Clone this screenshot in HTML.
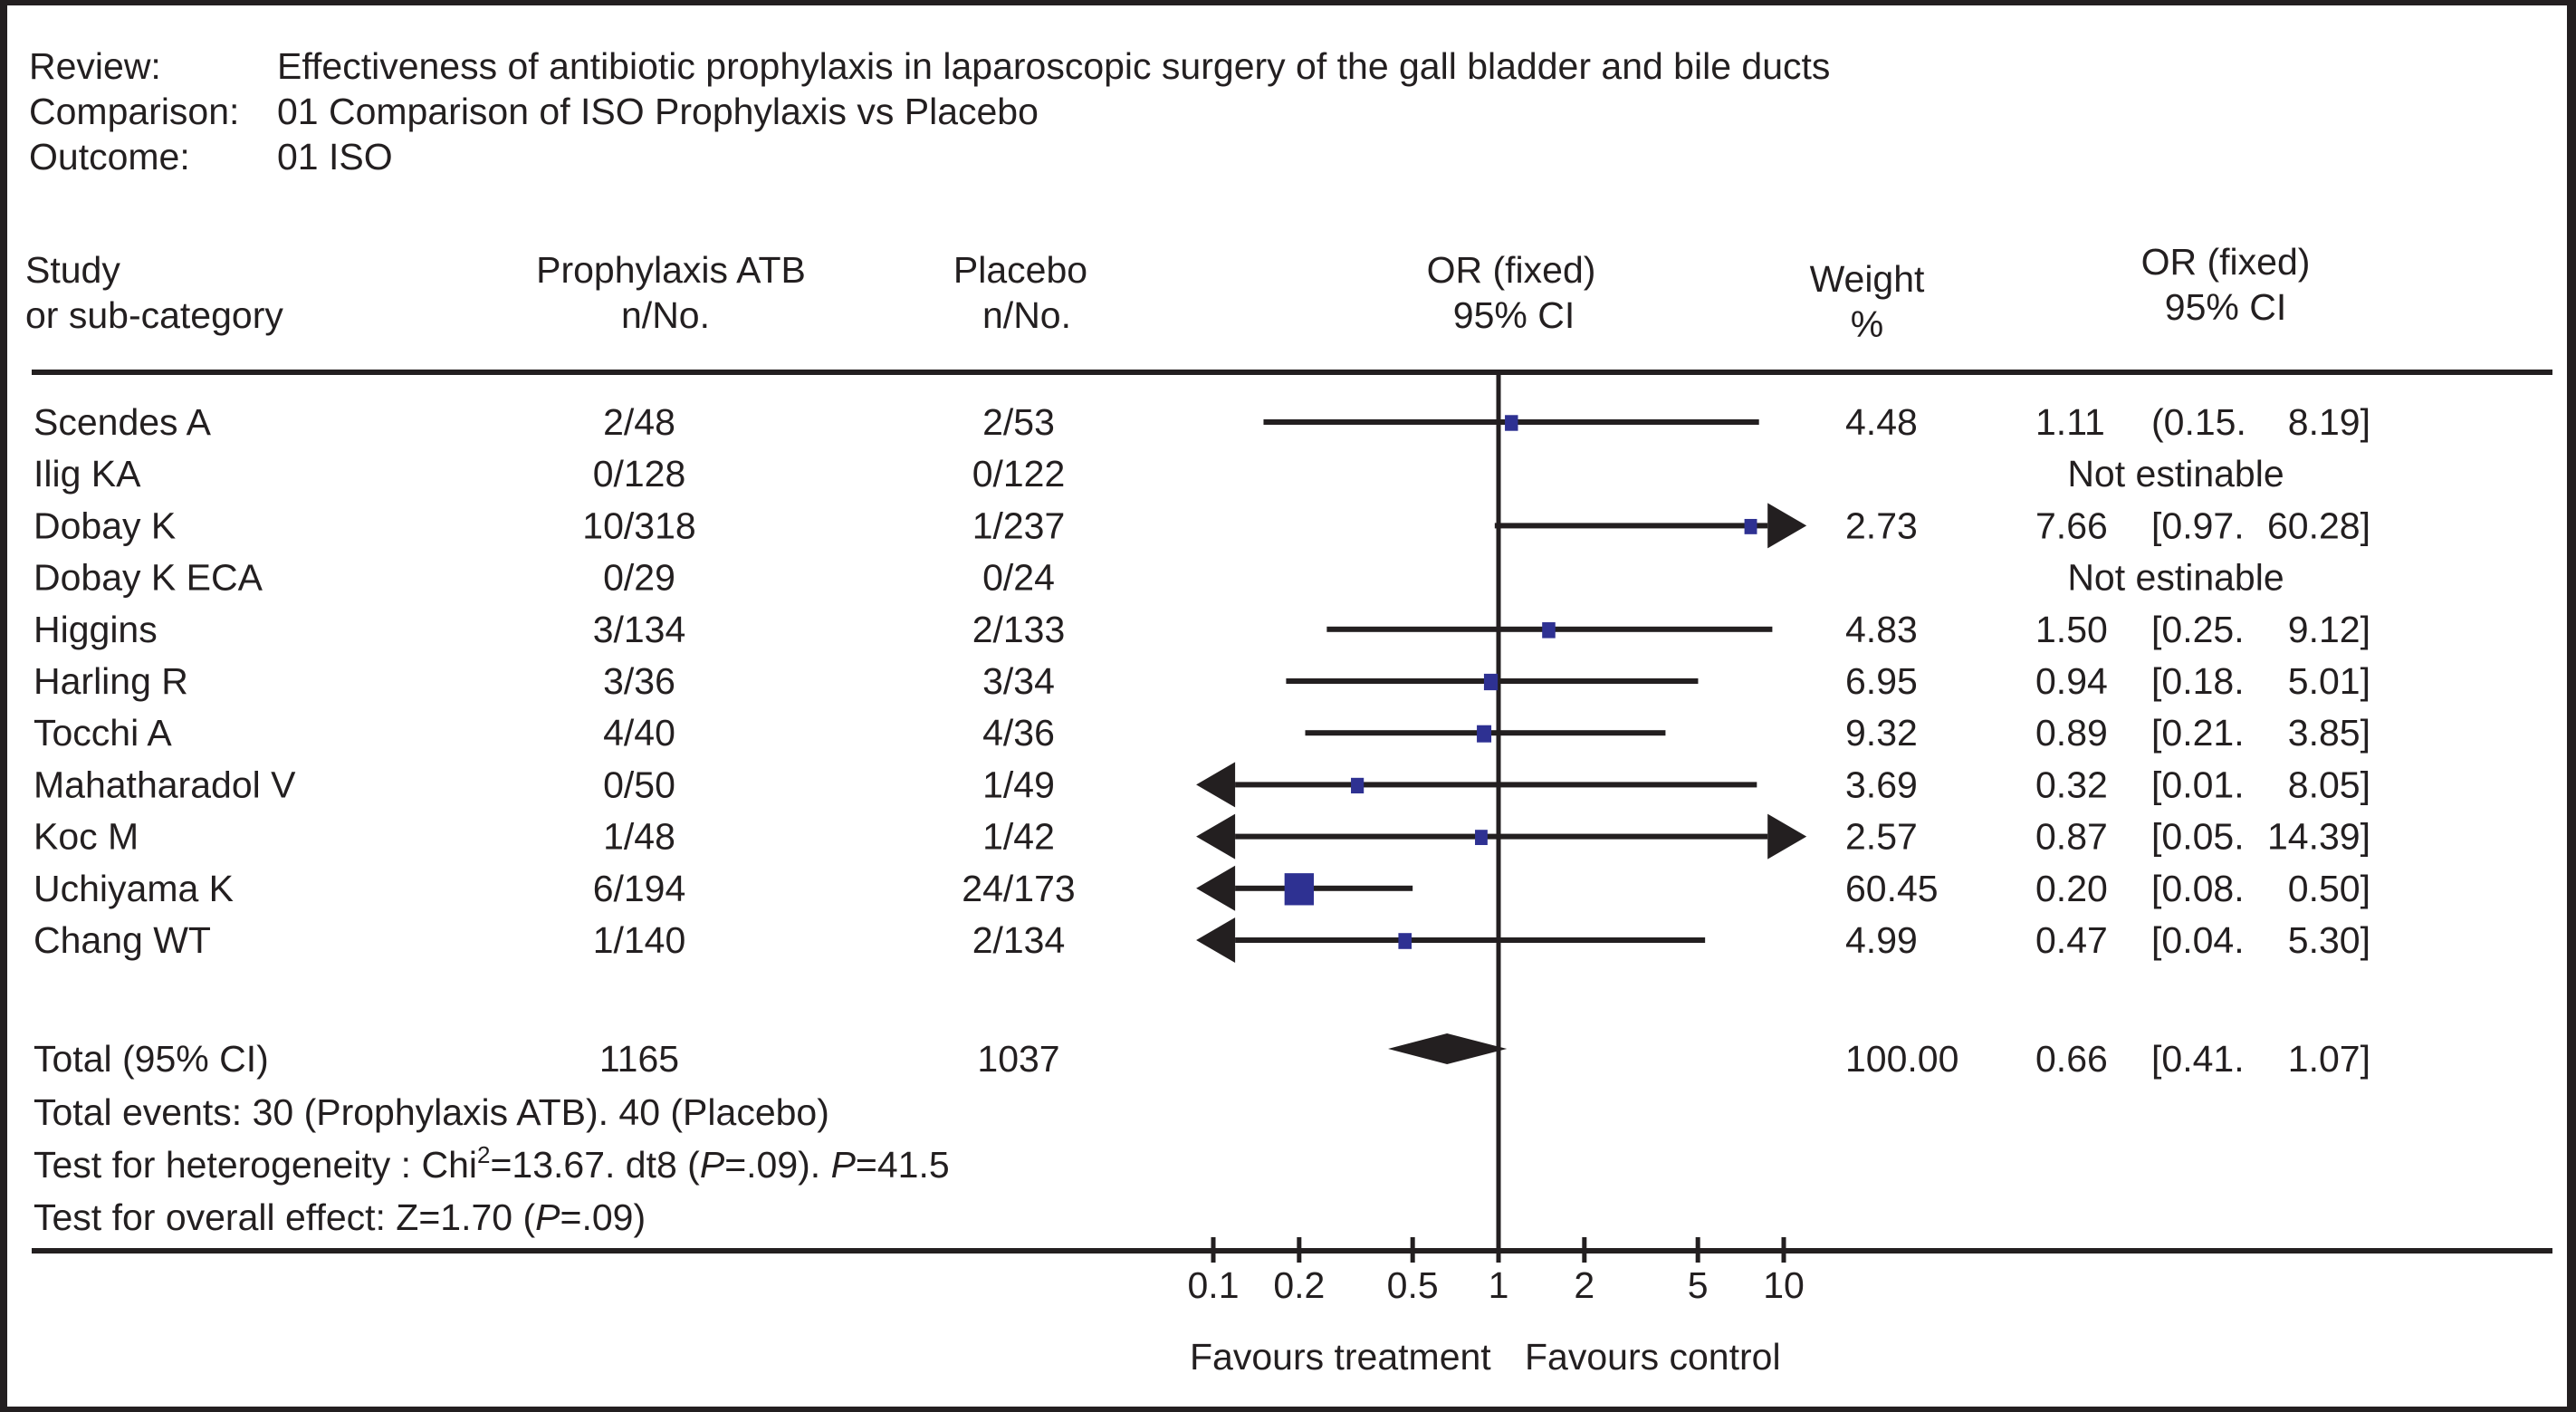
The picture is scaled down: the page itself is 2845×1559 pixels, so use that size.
<!DOCTYPE html>
<html><head><meta charset="utf-8">
<style>
html,body{margin:0;padding:0;background:#fff;}
svg{display:block;}
text{font-family:"Liberation Sans",Arial,sans-serif;font-size:41px;fill:#231f20;}
</style></head>
<body>
<svg id="chart" width="2845" height="1559" viewBox="0 0 2845 1559" xmlns="http://www.w3.org/2000/svg">
<rect x="0" y="0" width="2845" height="1559" fill="#fff"/>
<rect x="0" y="0" width="2845" height="6" fill="#231f20"/>
<rect x="0" y="1553" width="2845" height="6" fill="#231f20"/>
<rect x="0" y="0" width="8" height="1559" fill="#231f20"/>
<rect x="2835" y="0" width="10" height="1559" fill="#231f20"/>

<g>
<text x="32" y="87">Review:</text>
<text x="306" y="87">Effectiveness of antibiotic prophylaxis in laparoscopic surgery of the gall bladder and bile ducts</text>
<text x="32" y="137">Comparison:</text>
<text x="306" y="137">01 Comparison of ISO Prophylaxis vs Placebo</text>
<text x="32" y="187">Outcome:</text>
<text x="306" y="187">01 ISO</text>
</g>

<g>
<text x="28" y="312">Study</text>
<text x="28" y="362">or sub-category</text>
<text x="741" y="312" text-anchor="middle">Prophylaxis ATB</text>
<text x="735" y="362" text-anchor="middle">n/No.</text>
<text x="1127" y="312" text-anchor="middle">Placebo</text>
<text x="1134" y="362" text-anchor="middle">n/No.</text>
<text x="1669" y="312" text-anchor="middle">OR (fixed)</text>
<text x="1672" y="362" text-anchor="middle">95% CI</text>
<text x="2062" y="322" text-anchor="middle">Weight</text>
<text x="2062" y="372" text-anchor="middle">%</text>
<text x="2458" y="303" text-anchor="middle">OR (fixed)</text>
<text x="2458" y="353" text-anchor="middle">95% CI</text>
</g>

<rect x="35" y="408" width="2784" height="6" fill="#231f20"/>
<rect x="35" y="1378" width="2784" height="6" fill="#231f20"/>

<g id="rows"></g>
<g id="marks"></g>
<g id="axis"></g>

<g>
<text x="37" y="1242">Total events: 30 (Prophylaxis ATB). 40 (Placebo)</text>
<text x="37" y="1300">Test for heterogeneity : Chi<tspan dy="-16" font-size="26">2</tspan><tspan dy="16">=13.67. dt8 (</tspan><tspan font-style="italic">P</tspan>=.09). <tspan font-style="italic">P</tspan>=41.5</text>
<text x="37" y="1358">Test for overall effect: Z=1.70 (<tspan font-style="italic">P</tspan>=.09)</text>
</g>
<text x="1314" y="1512">Favours treatment</text>
<text x="1684" y="1512">Favours control</text>
</svg>
<script>
const studies = ["Scendes A","Ilig KA","Dobay K","Dobay K ECA","Higgins","Harling R","Tocchi A","Mahatharadol V","Koc M","Uchiyama K","Chang WT"];
const treatN = ["2/48","0/128","10/318","0/29","3/134","3/36","4/40","0/50","1/48","6/194","1/140"];
const placeboN = ["2/53","0/122","1/237","0/24","2/133","3/34","4/36","1/49","1/42","24/173","2/134"];
const orValues = [1.11,null,7.66,null,1.50,0.94,0.89,0.32,0.87,0.20,0.47];
const ciLow = [0.15,null,0.97,null,0.25,0.18,0.21,0.01,0.05,0.08,0.04];
const ciHigh = [8.19,null,60.28,null,9.12,5.01,3.85,8.05,14.39,0.50,5.30];
const weights = [4.48,null,2.73,null,4.83,6.95,9.32,3.69,2.57,60.45,4.99];
const openBrackets = ["(", null,"[",null,"[","[","[","[","[","[","["];
const totalOR = [0.66];
const totalLow = [0.41];
const totalHigh = [1.07];
const totalTreat = ["1165"];
const totalPlacebo = ["1037"];
const totalWeight = ["100.00"];
const tickValues = [0.1,0.2,0.5,1,2,5,10];
const tickLabels = ["0.1","0.2","0.5","1","2","5","10"];

const NS = "http://www.w3.org/2000/svg";
const X0 = 1655, DEC = 315, LOGMIN = -1.06, LOGMAX = 1.08, AW = 43, AH = 25;
function xScale(v){ return X0 + DEC*Math.log10(v); }
const xMinPx = X0 + DEC*LOGMIN, xMaxPx = X0 + DEC*LOGMAX;
function rowY(i){ return 466 + 57.2*i; }
function mk(tag, attrs, parent){ const e=document.createElementNS(NS,tag); for(const k in attrs) e.setAttribute(k,attrs[k]); parent.appendChild(e); return e; }
function txt(x,y,s,anchor,parent){ const t=mk('text',{x:x,y:y,'text-anchor':anchor||'start'},parent); t.textContent=s; return t; }
function f2(v){ return v.toFixed(2); }

const rows = document.getElementById('rows');
const marks = document.getElementById('marks');
const axis = document.getElementById('axis');

const ref = mk('rect',{x:xScale(1)-2.5,y:411,width:5,height:970,fill:'#231f20'},marks);



studies.forEach((name,i)=>{
  const y = rowY(i), by = y+14;
  let t = txt(37,by,name,'start',rows);
  
  
  t = txt(706,by,treatN[i],'middle',rows);
  
  
  t = txt(1125,by,placeboN[i],'middle',rows);
  
  
  if(orValues[i]===null){
    t = txt(2403,by,'Not estinable','middle',rows);
    
    
    return;
  }
  t = txt(2038,by,f2(weights[i]),'start',rows);
  
  
  t = txt(2248,by,f2(orValues[i]),'start',rows);
  
  
  t = txt(2376,by,openBrackets[i]+f2(ciLow[i])+'.','start',rows);
  
  
  t = txt(2618,by,f2(ciHigh[i])+']','end',rows);
  
  

  const lowOut = xScale(ciLow[i]) < xMinPx, highOut = xScale(ciHigh[i]) > xMaxPx;
  const x1 = lowOut ? xMinPx+AW : xScale(ciLow[i]);
  const x2 = highOut ? xMaxPx-AW : xScale(ciHigh[i]);
  const ln = mk('rect',{x:x1,y:y-3,width:x2-x1,height:6,fill:'#231f20'},marks);
  
  
  if(lowOut){
    const a = mk('polygon',{points:`${xMinPx},${y} ${xMinPx+AW},${y-AH} ${xMinPx+AW},${y+AH}`,fill:'#231f20'},marks);
    
    
  }
  if(highOut){
    const a = mk('polygon',{points:`${xMaxPx},${y} ${xMaxPx-AW},${y-AH} ${xMaxPx-AW},${y+AH}`,fill:'#231f20'},marks);
    
    
  }
  const w = 13 + 0.32*weights[i], h = w + 3;
  const sq = mk('rect',{x:xScale(orValues[i])-w/2,y:y-h/2+1,width:w,height:h,fill:'#2e3192'},marks);
  
  
});

{
  const by = 1183;
  let t = txt(37,by,'Total (95% CI)','start',rows);
  
  
  t = txt(706,by,totalTreat[0],'middle',rows);
  
  
  t = txt(1125,by,totalPlacebo[0],'middle',rows);
  
  
  t = txt(2038,by,totalWeight[0],'start',rows);
  
  
  t = txt(2248,by,f2(totalOR[0]),'start',rows);
  
  
  t = txt(2376,by,'['+f2(totalLow[0])+'.','start',rows);
  
  
  t = txt(2618,by,f2(totalHigh[0])+']','end',rows);
  
  
  const dy = 1158, xl = xScale(totalLow[0]), xr = xScale(totalHigh[0]), xc = xScale(totalOR[0]);
  const d = mk('polygon',{points:`${xl},${dy} ${xc},${dy-17} ${xr},${dy} ${xc},${dy+17}`,fill:'#231f20'},marks);
  
  
}

tickValues.forEach((v,i)=>{
  const x = xScale(v);
  const tk = mk('rect',{x:x-2.5,y:1366,width:5,height:28,fill:'#231f20'},axis);
  
  
  const lb = txt(x,1433,tickLabels[i],'middle',axis);
  
  
});
</script>
</body></html>
